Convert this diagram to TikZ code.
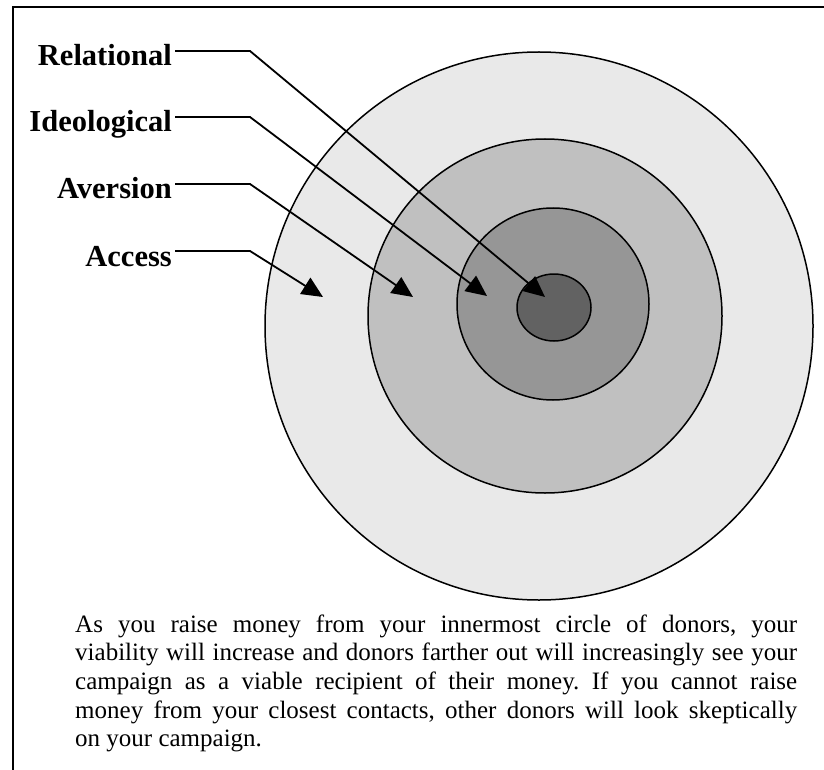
\documentclass[tikz,border=0pt]{standalone}
\usepackage{fontspec}
\setmainfont{Liberation Serif}
\usetikzlibrary{arrows.meta}
\definecolor{ringA}{HTML}{E9E9E9}
\definecolor{ringB}{HTML}{C0C0C0}
\definecolor{ringC}{HTML}{969696}
\definecolor{ringD}{HTML}{626262}
\tikzset{
  ring/.style={draw=black, line width=1.5pt},
  lbl/.style={anchor=base east, inner sep=0pt, font=\fontsize{30.5}{36}\selectfont\bfseries},
  pointer/.style={draw=black, line width=1.8pt, -{Triangle[length=21pt,width=19pt]}},
  frameline/.style={draw=black, line width=1.6pt}
}
\begin{document}
\begin{tikzpicture}[x=1pt,y=-1pt]
\useasboundingbox (0,0) rectangle (824,770);
% frame
\draw[frameline] (13,770) -- (13,7) -- (824,7);
% rings
\path[ring, fill=ringA] (539,326) circle [radius=274pt];
\path[ring, fill=ringB] (545,316) circle [radius=177pt];
\path[ring, fill=ringC] (553,304) circle [radius=96pt];
\path[ring, fill=ringD] (554,307.5) ellipse [x radius=37pt, y radius=33.5pt];
% labels
\node[lbl] (rel) at (172,66) {Relational};
\node[lbl] (ideo) at (172,132) {Ideological};
\node[lbl] (aver) at (172,199) {Aversion};
\node[lbl] (acc) at (172,266) {Access};
% bends and tips
\coordinate (relb) at (250,51);
\coordinate (ideob) at (250,117);
\coordinate (averb) at (250,184);
\coordinate (accb) at (250,251);
\coordinate (relt) at (545,297);
\coordinate (ideot) at (487,296);
\coordinate (avert) at (413,297);
\coordinate (acct) at (323,297);
\draw[pointer] ([shift={(3,-15)}]rel.base east) -- (relb) -- (relt);
\draw[pointer] ([shift={(3,-15)}]ideo.base east) -- (ideob) -- (ideot);
\draw[pointer] ([shift={(3,-15)}]aver.base east) -- (averb) -- (avert);
\draw[pointer] ([shift={(3,-15)}]acc.base east) -- (accb) -- (acct);
% caption
\node[anchor=base west, inner sep=0pt, text width=722pt, align=justify] (cap) at (75,632)
 {\fontsize{25}{28.7}\selectfont\frenchspacing\hyphenpenalty=10000\emergencystretch=2em
  As you raise money from your innermost circle of donors, your\linebreak
  viability will increase and donors farther out will increasingly see your\linebreak
  campaign as a viable recipient of their money. If you cannot raise\linebreak
  money from your closest contacts, other donors will look skeptically\linebreak
  on your campaign.\par};
\end{tikzpicture}
\end{document}
